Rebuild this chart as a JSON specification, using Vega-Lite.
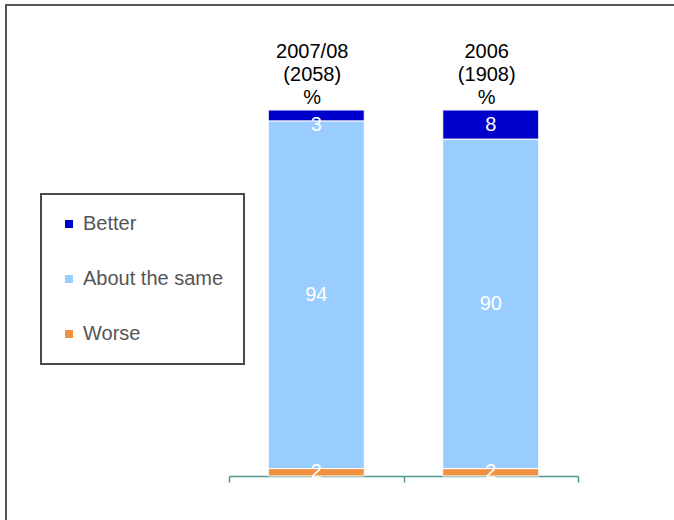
{
  "$schema": "https://vega.github.io/schema/vega-lite/v6.json",
  "width": 680,
  "height": 525,
  "autosize": {"type": "none"},
  "padding": {"left": 6, "top": 5, "right": 0, "bottom": 0},
  "background": "white",
  "config": {
    "font": "Liberation Sans",
    "view": {"stroke": "#555555", "strokeWidth": 2},
    "legend": {"strokeWidth": 2}
  },
  "datasets": {
    "answers": [
      {"period": "2007/08", "answer": "Better", "pct": 3, "rank": 3},
      {"period": "2007/08", "answer": "About the same", "pct": 94, "rank": 2},
      {"period": "2007/08", "answer": "Worse", "pct": 2, "rank": 1},
      {"period": "2006", "answer": "Better", "pct": 8, "rank": 3},
      {"period": "2006", "answer": "About the same", "pct": 90, "rank": 2},
      {"period": "2006", "answer": "Worse", "pct": 2, "rank": 1}
    ],
    "headers": [
      {"period": "2007/08", "label": ["2007/08", "(2058)", "%"]},
      {"period": "2006", "label": ["2006", "(1908)", "%"]}
    ]
  },
  "encoding": {
    "x": {
      "field": "period",
      "type": "nominal",
      "sort": ["2007/08", "2006"],
      "scale": {"type": "band", "range": [223, 572], "paddingInner": 0, "paddingOuter": 0},
      "axis": {
        "title": null,
        "labels": false,
        "orient": "bottom",
        "offset": -54,
        "tickBand": "extent",
        "tickSize": 6,
        "tickColor": "#4E9A8F",
        "tickWidth": 1.5,
        "domainColor": "#4E9A8F",
        "domainWidth": 1.5,
        "grid": false
      }
    }
  },
  "layer": [
    {
      "data": {"name": "answers"},
      "transform": [
        {"stack": "pct", "groupby": ["period"], "sort": [{"field": "rank"}], "offset": "normalize", "as": ["y0", "y1"]}
      ],
      "mark": {"type": "bar", "width": {"band": 0.55}, "stroke": "white", "strokeWidth": 1},
      "encoding": {
        "y": {
          "field": "y1",
          "type": "quantitative",
          "scale": {"domain": [0, 1], "range": [471, 105], "nice": false, "zero": false},
          "axis": null
        },
        "y2": {"field": "y0"},
        "color": {
          "field": "answer",
          "type": "nominal",
          "scale": {
            "domain": ["Better", "About the same", "Worse"],
            "range": ["#0000CC", "#99CCFF", "#F09142"]
          },
          "legend": {
            "title": null,
            "orient": "none",
            "legendX": 35,
            "legendY": 189,
            "padding": 20,
            "strokeColor": "#4A4A4A",
            "symbolType": "square",
            "symbolSize": 64,
            "symbolStrokeWidth": 0,
            "symbolOffset": -2,
            "labelFontSize": 20,
            "labelColor": "#555555",
            "labelOffset": 4,
            "rowPadding": 35,
            "encode": {"legend": {"update": {"strokeWidth": {"value": 2}}}}
          }
        }
      }
    },
    {
      "data": {"name": "answers"},
      "transform": [
        {"stack": "pct", "groupby": ["period"], "sort": [{"field": "rank"}], "offset": "normalize", "as": ["y0", "y1"]},
        {"filter": "datum.rank < 3"},
        {"calculate": "(datum.y0 + datum.y1) / 2", "as": "ymid"}
      ],
      "mark": {"type": "text", "color": "white", "fontSize": 20, "align": "center", "baseline": "middle"},
      "encoding": {
        "y": {"field": "ymid", "type": "quantitative"},
        "text": {"field": "pct", "type": "quantitative"}
      }
    },
    {
      "data": {"name": "answers"},
      "transform": [
        {"stack": "pct", "groupby": ["period"], "sort": [{"field": "rank"}], "offset": "normalize", "as": ["y0", "y1"]},
        {"filter": "datum.rank == 3"}
      ],
      "mark": {"type": "text", "color": "white", "fontSize": 20, "align": "center", "baseline": "middle", "dy": 15},
      "encoding": {
        "y": {"field": "y1", "type": "quantitative"},
        "text": {"field": "pct", "type": "quantitative"}
      }
    },
    {
      "data": {"name": "headers"},
      "mark": {"type": "text", "color": "black", "fontSize": 20, "lineHeight": 23, "align": "center", "baseline": "bottom", "dx": -4, "dy": -48},
      "encoding": {
        "y": {"datum": 1},
        "text": {"field": "label"}
      }
    }
  ]
}
